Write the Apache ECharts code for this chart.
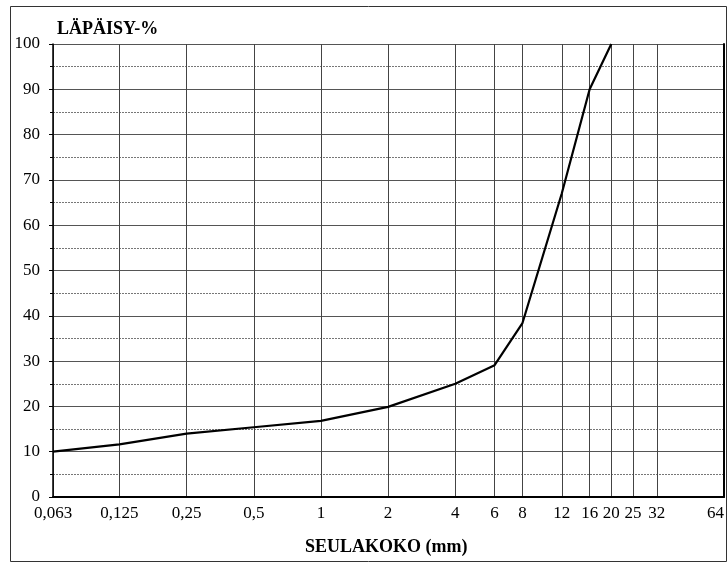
<!DOCTYPE html>
<html>
<head>
<meta charset="utf-8">
<script src="https://cdn.jsdelivr.net/npm/echarts@6/dist/echarts.min.js"></script>
<style>
  html, body { margin: 0; padding: 0; background: #fff; }
  #chart { width: 728px; height: 563px; }
</style>
</head>
<body>
<div id="chart"></div>
<script>
// Sieve sizes (mm) and passing percentages of the grading curve
const sieveSizes = [0.063, 0.125, 0.25, 0.5, 1, 2, 4, 6, 8, 12, 16, 20];
const passing = [10, 11.6, 14, 15.4, 16.8, 19.9, 25, 29.1, 38.4, 67, 90, 100];

// Sieve sizes shown on the horizontal axis and their printed labels
const tickSizes = [0.063, 0.125, 0.25, 0.5, 1, 2, 4, 6, 8, 12, 16, 20, 25, 32, 64];
const tickLabels = ['0,063', '0,125', '0,25', '0,5', '1', '2', '4', '6', '8', '12', '16', '20', '25', '32', '64'];

// Percentage axis labels
const yTicks = [0, 10, 20, 30, 40, 50, 60, 70, 80, 90, 100];

// The sieve axis is logarithmic (base 2): positions are log2 of the size
const lg = Math.log2;
const tickPos = tickSizes.map(lg);
const xMin = lg(tickSizes[0]);
const xMax = lg(tickSizes[tickSizes.length - 1]);

function labelFor(v) {
  let best = 0, bestD = Infinity;
  tickPos.forEach((p, i) => {
    const d = Math.abs(p - v);
    if (d < bestD) { bestD = d; best = i; }
  });
  return bestD < 1e-6 ? tickLabels[best] : '';
}

const serif = '"Liberation Serif", "Times New Roman", serif';

const chart = echarts.init(document.getElementById('chart'), null, { renderer: 'canvas' });

chart.setOption({
  animation: false,
  backgroundColor: '#fff',
  textStyle: { fontFamily: serif },
  grid: { left: 53, right: 4, top: 44, bottom: 66, containLabel: false },
  graphic: [
    {
      type: 'rect',
      shape: { x: 10.5, y: 6.5, width: 716, height: 555 },
      style: { fill: 'none', stroke: '#333', lineWidth: 1 },
      z: 0
    },
    {
      type: 'text',
      left: 57,
      top: 20,
      style: {
        text: 'LÄPÄISY-%',
        font: 'bold 18px ' + serif,
        fill: '#000'
      }
    },
    {
      type: 'text',
      left: 305,
      top: 538,
      style: {
        text: 'SEULAKOKO (mm)',
        font: 'bold 18px ' + serif,
        fill: '#000'
      }
    }
  ],
  xAxis: {
    type: 'value',
    min: xMin,
    max: xMax,
    axisLine: { show: true, onZero: false, lineStyle: { color: '#000', width: 2 } },
    axisTick: { show: false, customValues: tickPos },
    axisLabel: {
      customValues: tickPos,
      formatter: labelFor,
      color: '#000',
      fontFamily: serif,
      fontSize: 17,
      margin: 8,
      showMinLabel: true,
      showMaxLabel: true,
      alignMaxLabel: 'right',
      hideOverlap: false
    },
    splitLine: { show: true, lineStyle: { color: '#444', width: 1 } }
  },
  yAxis: [
    {
      type: 'value',
      min: 0,
      max: 100,
      interval: 10,
      axisLine: { show: true, onZero: false, lineStyle: { color: '#000', width: 1.5 } },
      axisTick: { show: true, length: 4, lineStyle: { color: '#000', width: 1 } },
      minorTick: { show: true, splitNumber: 2, length: 3, lineStyle: { color: '#000', width: 1 } },
      axisLabel: {
        color: '#000',
        fontFamily: serif,
        fontSize: 17,
        margin: 13,
        formatter: v => (yTicks.indexOf(v) >= 0 ? String(v) : '')
      },
      splitLine: { show: true, lineStyle: { color: '#555', width: 1 } },
      minorSplitLine: { show: true, lineStyle: { color: '#777', width: 1, type: [2, 1] } }
    },
    {
      type: 'value',
      position: 'right',
      min: 0,
      max: 100,
      interval: 10,
      axisLine: { show: true, onZero: false, lineStyle: { color: '#000', width: 2 } },
      axisTick: { show: false },
      axisLabel: { show: false },
      splitLine: { show: false }
    }
  ],
  series: [
    {
      type: 'line',
      data: sieveSizes.map((s, i) => [lg(s), passing[i]]),
      showSymbol: false,
      lineStyle: { color: '#000', width: 2.2 },
      z: 5
    }
  ]
});
</script>
</body>
</html>
